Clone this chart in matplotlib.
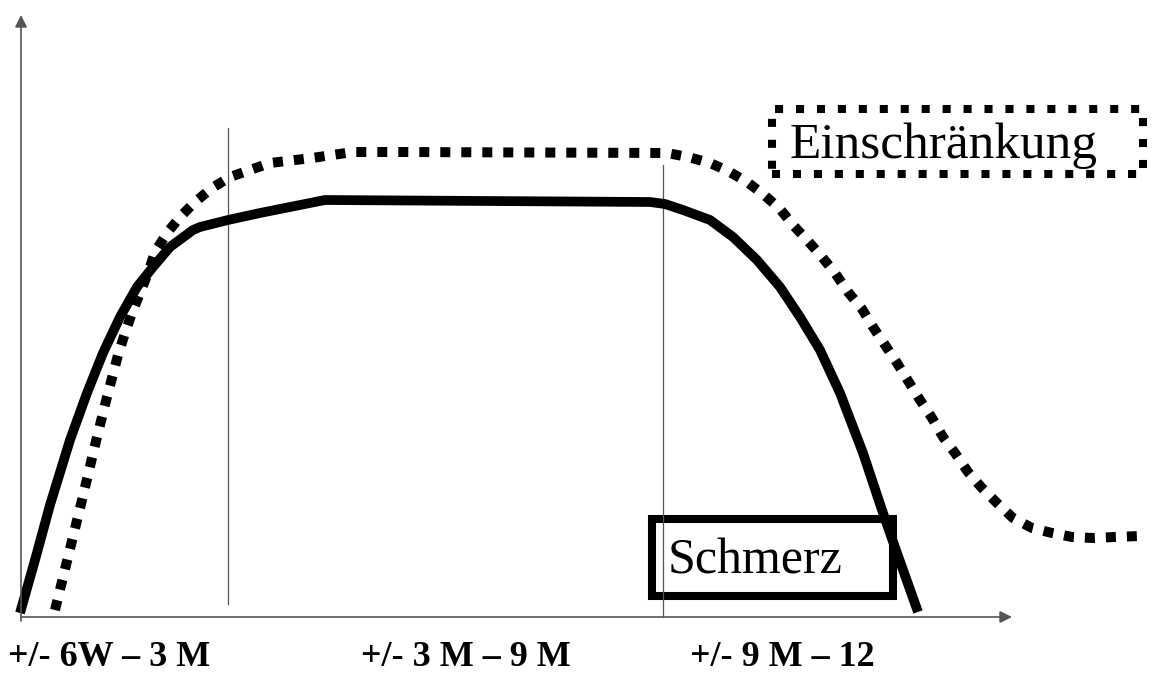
import matplotlib.pyplot as plt
from matplotlib.patches import Rectangle

# phase labels on the time axis
phase_labels = ['+/- 6W – 3 M', '+/- 3 M – 9 M', '+/- 9 M – 12']
phase_label_x = [88, 445, 761]
phase_bounds = [207, 642]

# Schmerz (pain) curve, solid
pain_x = [-1, 14, 29, 49, 66, 82, 99, 116, 132, 149, 172, 179, 207, 239, 304,
          629, 644, 662, 689, 712, 736, 759, 779, 799, 819, 842, 862, 876, 897]
pain_y = [4, 57, 112, 177, 224, 264, 300, 330, 350, 370, 387, 390, 397, 404, 417,
          415, 413, 407, 397, 380, 357, 330, 300, 267, 224, 164, 104, 64, 5]

# Einschränkung (limitation) curve, dotted
lim_x = [34, 61, 76, 86, 97, 104, 111, 119, 127, 134, 146, 159, 174, 191,
         209, 249, 291, 332, 379, 646, 667,
         689, 707, 726, 742, 759, 772, 787, 801, 814, 827, 841, 852, 864, 876,
         899, 911, 922, 934, 947, 961, 976, 992, 1011, 1031, 1051, 1072, 1094, 1119]
lim_y = [7, 117, 180, 220, 262, 284, 304, 324, 344, 365, 384, 400, 415, 429,
         440, 454, 459, 465, 465, 464, 460,
         454, 446, 435, 423, 408, 392, 376, 360, 344, 325, 308, 290, 272, 254,
         217, 199, 180, 164, 145, 129, 114, 99, 89, 84, 80, 79, 80, 81]

fig = plt.figure(figsize=(11.54, 6.73), dpi=100)
ax = fig.add_axes([0, 0, 1, 1])
ax.set_xlim(-21, 1133)
ax.set_ylim(-56, 617)
ax.axis('off')

axis_col = '#555555'
# axes with arrow heads
ax.annotate('', xy=(0, 602), xytext=(0, -4),
            arrowprops=dict(arrowstyle='-|>', color=axis_col, lw=1.2,
                            mutation_scale=18, shrinkA=0, shrinkB=0))
ax.annotate('', xy=(991, 0), xytext=(0, 0),
            arrowprops=dict(arrowstyle='-|>', color=axis_col, lw=1.2,
                            mutation_scale=18, shrinkA=0, shrinkB=0))

# phase boundary lines
ax.plot([phase_bounds[0]] * 2, [13, 489], color=axis_col, lw=0.9)
ax.plot([phase_bounds[1]] * 2, [0, 452], color=axis_col, lw=0.9)

ax.plot(pain_x, pain_y, color='black', lw=7.0, solid_capstyle='butt',
        solid_joinstyle='round')
ax.plot(lim_x, lim_y, color='black', lw=7.2, linestyle=(0, (1, 1.1)),
        dash_capstyle='butt')

# legend-like boxes
ax.add_patch(Rectangle((631, 21), 241, 77, fill=False, ec='black', lw=5.8,
                       joinstyle='miter'))
ax.text(647, 44, 'Schmerz', fontsize=36, family='Liberation Serif',
        va='baseline', ha='left')

ax.add_patch(Rectangle((751, 443), 371, 65, fill=False, ec='black', lw=5.8,
                       linestyle=(0, (1, 1.6))))
ax.text(769, 459, 'Einschränkung', fontsize=37, family='Liberation Serif',
        va='baseline', ha='left')

for lx, lab in zip(phase_label_x, phase_labels):
    ax.text(lx, -49, lab, fontsize=26, family='Liberation Serif',
            fontweight='bold', ha='center', va='baseline')

fig.savefig('out.png', dpi=100)
